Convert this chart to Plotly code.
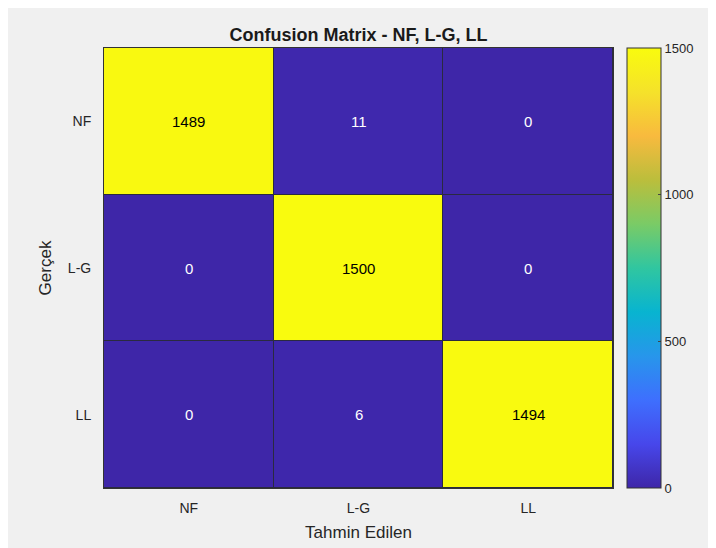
import plotly.graph_objects as go

# Sınıf etiketleri ve karışıklık matrisi değerleri
classes = ['NF', 'L-G', 'LL']
actual = ['NF', 'L-G', 'LL']
counts = [
    [1489, 11, 0],
    [0, 1500, 0],
    [0, 6, 1494],
]
cbar_ticks = [0, 500, 1000, 1500]

# MATLAB parula renk haritası (yaklaşık)
parula = [
    [0.0, '#3e26a8'], [0.1, '#4747eb'], [0.2, '#3e6ffe'],
    [0.3, '#2796eb'], [0.4, '#08b4d0'], [0.5, '#30c6a0'],
    [0.6, '#7acb66'], [0.7, '#bbbe3c'], [0.8, '#f8ba3e'],
    [0.9, '#f5e22a'], [1.0, '#f9fb0e'],
]

fig = go.Figure(go.Heatmap(
    z=counts, x=classes, y=actual,
    colorscale=parula, zmin=0, zmax=1500,
    xgap=1, ygap=1,
    colorbar=dict(
        x=1.027, xanchor='left', xpad=0, ypad=0, thickness=34, len=1.0, y=0.5,
        tickvals=cbar_ticks, ticks='inside', ticklen=3,
        outlinecolor='#333333', outlinewidth=1,
        tickfont=dict(size=13, color='#262626'),
    ),
))

# Hücre metinleri
for i, row in enumerate(counts):
    for j, v in enumerate(row):
        fig.add_annotation(
            x=classes[j], y=actual[i], text=str(v), showarrow=False,
            font=dict(size=15, color='black' if v > 750 else 'white'),
        )

fig.update_layout(
    width=716, height=548,
    margin=dict(l=96, r=111, t=40, b=68),
    paper_bgcolor='#f0f0f0', plot_bgcolor='#2a2a40',
    font=dict(family='Liberation Sans, Arial, sans-serif', color='#262626'),
    title=dict(text='<b>Confusion Matrix - NF, L-G, LL</b>', x=0.5, xref='paper',
               y=1 - 27 / 548, yref='container', yanchor='middle',
               font=dict(size=18, color='#1a1a1a')),
    xaxis=dict(title=dict(text='Tahmin Edilen', font=dict(size=17), standoff=11),
               showline=True, mirror=True, linecolor='#333333', ticks='',
               ticklabelstandoff=7, tickfont=dict(size=14), showgrid=False),
    yaxis=dict(title=dict(text='Gerçek', font=dict(size=17), standoff=11),
               autorange='reversed', showline=True, mirror=True, linecolor='#333333',
               ticks='', ticklabelstandoff=9, tickfont=dict(size=14), showgrid=False),
)

fig.write_html('out.html')
